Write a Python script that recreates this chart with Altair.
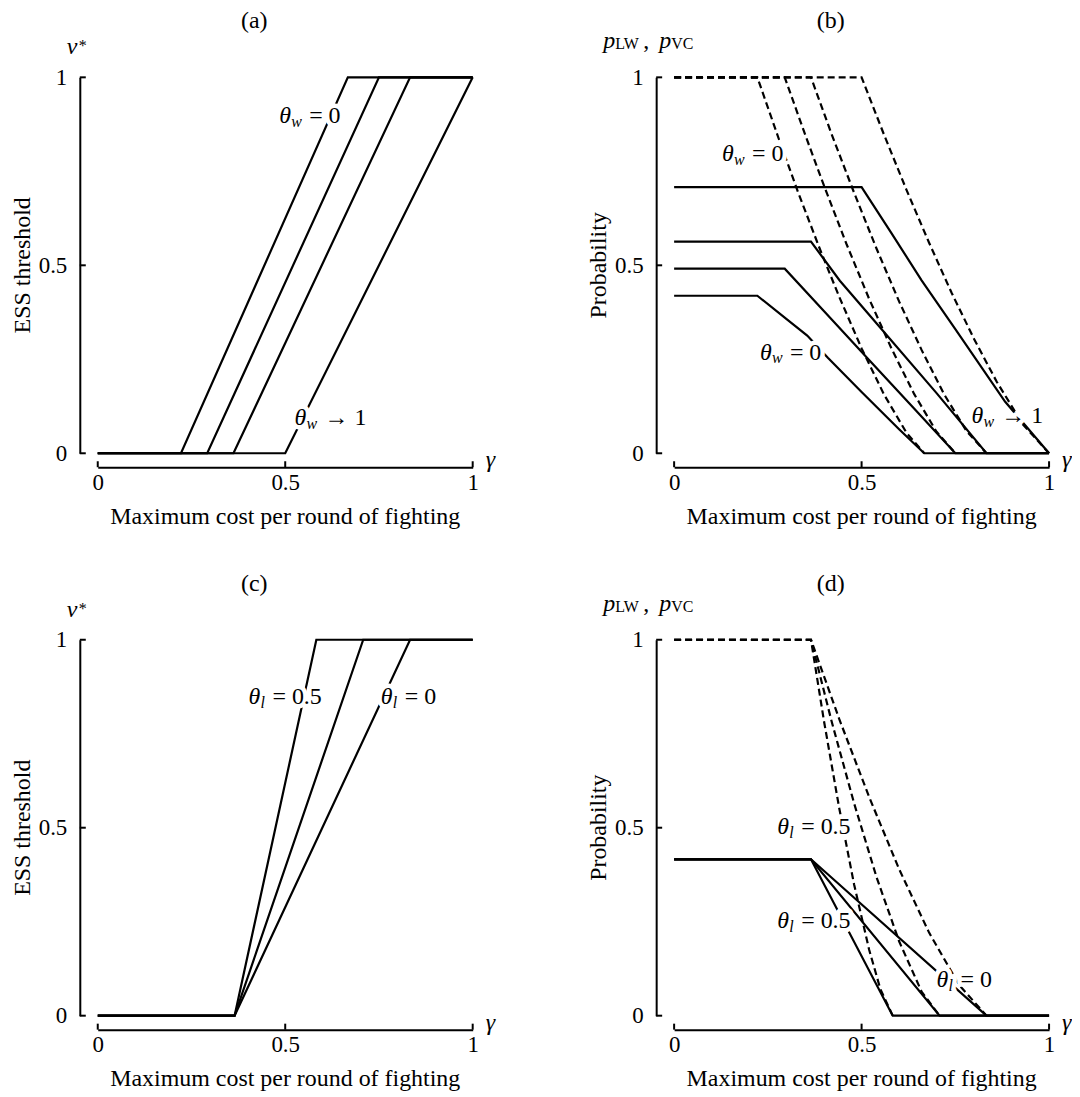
import altair as alt
import pandas as pd

SERIF = "Liberation Serif, Times New Roman, serif"
W, H = 376, 377
TICKS = [0, 0.5, 1]
FS = 24      # main text size
FS_TICK = 23 # tick label size
FS_SUB = 16  # subscripts

# ---------------- data ----------------
# (a) ESS threshold v* against gamma, theta_w = 0 ... theta_w -> 1
A_X = [[0, 0.222, 0.667, 1.0], [0, 0.292, 0.75, 1.0], [0, 0.362, 0.833, 1.0], [0, 0.5, 1.0]]
A_Y = [[0, 0, 1, 1], [0, 0, 1, 1], [0, 0, 1, 1], [0, 0, 1]]

# (b) solid: p_LW ; dashed: p_VC
B_LW_X = [
    [0, 0.222, 0.30, 0.355, 0.41, 0.50, 0.60, 0.667, 1.0],
    [0, 0.295, 0.40, 0.52, 0.64, 0.75, 1.0],
    [0, 0.365, 0.442, 0.55, 0.70, 0.833, 1.0],
    [0, 0.5, 0.58, 0.66, 0.75, 0.883, 1.0],
]
B_LW_Y = [
    [0.419, 0.419, 0.357, 0.313, 0.254, 0.163, 0.064, 0, 0],
    [0.491, 0.491, 0.378, 0.248, 0.119, 0, 0],
    [0.563, 0.563, 0.459, 0.334, 0.160, 0, 0],
    [0.708, 0.708, 0.585, 0.46, 0.33, 0.137, 0],
]
B_VC_X = [
    [0, 0.222, 0.28, 0.33, 0.39, 0.44, 0.50, 0.56, 0.62, 0.667],
    [0, 0.295, 0.35, 0.40, 0.46, 0.52, 0.58, 0.64, 0.70, 0.75],
    [0, 0.365, 0.42, 0.48, 0.54, 0.60, 0.66, 0.72, 0.78, 0.833],
    [0, 0.5, 0.56, 0.62, 0.68, 0.74, 0.80, 0.86, 0.93, 1.0],
]
B_VC_Y = [
    [1, 1, 0.834, 0.696, 0.540, 0.417, 0.279, 0.156, 0.054, 0],
    [1, 1, 0.846, 0.711, 0.556, 0.411, 0.278, 0.158, 0.057, 0],
    [1, 1, 0.849, 0.693, 0.544, 0.404, 0.275, 0.157, 0.059, 0],
    [1, 1, 0.847, 0.700, 0.560, 0.427, 0.304, 0.191, 0.077, 0],
]

# (c) ESS threshold, theta_l = 0.5 ... 0
C_X = [[0, 0.365, 0.583, 1.0], [0, 0.365, 0.708, 1.0], [0, 0.365, 0.833, 1.0]]
C_Y = [[0, 0, 1, 1], [0, 0, 1, 1], [0, 0, 1, 1]]

# (d) solid: p_LW ; dashed: p_VC
D_LW_X = [[0, 0.365, 0.583, 1.0], [0, 0.365, 0.708, 1.0], [0, 0.365, 0.833, 1.0]]
D_LW_Y = [[0.416, 0.416, 0, 0], [0.416, 0.416, 0, 0], [0.416, 0.416, 0, 0]]
D_VC_X = [
    [0, 0.365, 0.40, 0.44, 0.48, 0.52, 0.55, 0.583],
    [0, 0.365, 0.42, 0.48, 0.54, 0.60, 0.66, 0.708],
    [0, 0.365, 0.44, 0.52, 0.60, 0.68, 0.76, 0.833],
]
D_VC_Y = [
    [1, 1, 0.782, 0.554, 0.349, 0.176, 0.071, 0],
    [1, 1, 0.783, 0.565, 0.368, 0.198, 0.064, 0],
    [1, 1, 0.790, 0.582, 0.390, 0.221, 0.082, 0],
]

# curve labels: (left x, middle y, text after theta+subscript)
A_LABELS = [(0.484, 0.897, "= 0"), (0.525, 0.095, "→ 1")]
B_LABELS = [(0.128, 0.796, "= 0"), (0.229, 0.268, "= 0"), (0.793, 0.100, "→ 1")]
C_LABELS = [(0.402, 0.847, "= 0.5"), (0.755, 0.847, "= 0")]
D_LABELS = [(0.275, 0.503, "= 0.5"), (0.275, 0.251, "= 0.5"), (0.700, 0.095, "= 0")]

PANEL_TITLES = ["(a)", "(b)", "(c)", "(d)"]
X_TITLE = "Maximum cost per round of fighting"
Y_TITLE_THR = "ESS threshold"
Y_TITLE_PROB = "Probability"

# ---------------- helpers ----------------
XS = alt.Scale(domain=[0, 1], nice=False, zero=False)
YS = alt.Scale(domain=[0, 1], nice=False, zero=False)
X_OFF, Y_OFF = 14, 18

X_AXIS = alt.Axis(values=TICKS, format="~g", offset=X_OFF, ticks=False, labelPadding=4,
                  labelFlush=False, labelOverlap=False, title=None, grid=False,
                  domainWidth=2, domainColor="black", labelFont=SERIF, labelFontSize=FS_TICK,
                  labelColor="black")
Y_AXIS = alt.Axis(values=TICKS, format="~g", offset=Y_OFF, ticks=False, labelPadding=13,
                  labelFlush=False, labelOverlap=False, title=None, grid=False,
                  domainWidth=2, domainColor="black", labelFont=SERIF, labelFontSize=FS_TICK,
                  labelColor="black")


def xenc(field):
    return alt.X(field, scale=XS, axis=X_AXIS)


def yenc(field):
    return alt.Y(field, scale=YS, axis=Y_AXIS)


def lines_df(xs, ys):
    rows = []
    for i, (xx, yy) in enumerate(zip(xs, ys)):
        for j, (x, y) in enumerate(zip(xx, yy)):
            rows.append({"s": i, "o": j, "x": x, "y": y})
    return pd.DataFrame(rows)


def line_layer(xs, ys, dashed=False):
    kw = dict(color="black", strokeWidth=2.2)
    if dashed:
        kw["strokeDash"] = [7, 4]
    return alt.Chart(lines_df(xs, ys)).mark_line(**kw).encode(
        x=xenc("x:Q"), y=yenc("y:Q"), detail="s:N", order="o:Q")


def tick_layers():
    df = pd.DataFrame({"v": TICKS})
    yt = alt.Chart(df).mark_rule(color="black", strokeWidth=2).encode(
        y=yenc("v:Q"), x=alt.value(-Y_OFF), x2=alt.value(-Y_OFF + 6))
    xt = alt.Chart(df).mark_rule(color="black", strokeWidth=2).encode(
        x=xenc("v:Q"), y=alt.value(H + X_OFF), y2=alt.value(H + X_OFF - 6))
    return [yt, xt]


def ptext(s, x, y, size=FS, italic=False, align="left", baseline="alphabetic", angle=None):
    kw = dict(font=SERIF, fontSize=size, align=align, baseline=baseline, color="black")
    if italic:
        kw["fontStyle"] = "italic"
    if angle is not None:
        kw["angle"] = angle
    return alt.Chart(pd.DataFrame({"t": [s]})).mark_text(**kw).encode(
        text="t:N", x=alt.value(x), y=alt.value(y))


def theta_layers(labels, sub, rest_dx):
    df = pd.DataFrame({"lx": [l[0] for l in labels], "ly": [l[1] for l in labels],
                       "rest": [l[2] for l in labels]})
    base = alt.Chart(df).encode(x=xenc("lx:Q"), y=yenc("ly:Q"))
    out = []
    for halo in (True, False):
        st = (dict(color="white", stroke="white", strokeWidth=9, strokeJoin="round")
              if halo else dict(color="black"))
        out.append(base.mark_text(text="θ", font=SERIF, fontSize=FS, fontStyle="italic",
                                  align="left", baseline="middle", **st))
        out.append(base.mark_text(text=sub, font=SERIF, fontSize=FS_SUB, fontStyle="italic",
                                  align="left", baseline="middle", dx=12, dy=6, **st))
        out.append(base.mark_text(font=SERIF, fontSize=FS, align="left", baseline="middle",
                                  dx=rest_dx, **st).encode(text="rest:N"))
    return out


def common_text(title, ytitle):
    return [
        ptext(title, 157, -56, baseline="middle", align="center"),
        ptext(ytitle, -75, H / 2, baseline="middle", align="center", angle=270),
        ptext(X_TITLE, W / 2, 441, baseline="middle", align="center"),
        ptext("γ", W + 13, H + X_OFF, italic=True),
    ]


def vstar():
    return [ptext("v", -31, -23, italic=True), ptext("*", -19, -26, size=FS_SUB)]


def pstar():
    return [
        ptext("p", -71, -29, italic=True),
        ptext("LW", -59, -28, size=FS_SUB),
        ptext(",", -31, -29),
        ptext("p", -15, -29, italic=True),
        ptext("VC", -3, -28, size=FS_SUB),
    ]


def panel(layers):
    return alt.layer(*layers).properties(width=W, height=H)


pa = panel([line_layer(A_X, A_Y)] + tick_layers() + theta_layers(A_LABELS, "w", 30)
           + common_text(PANEL_TITLES[0], Y_TITLE_THR) + vstar())
pb = panel([line_layer(B_VC_X, B_VC_Y, dashed=True), line_layer(B_LW_X, B_LW_Y)]
           + tick_layers() + theta_layers(B_LABELS, "w", 30)
           + common_text(PANEL_TITLES[1], Y_TITLE_PROB) + pstar())
pc = panel([line_layer(C_X, C_Y)] + tick_layers() + theta_layers(C_LABELS, "l", 24)
           + common_text(PANEL_TITLES[2], Y_TITLE_THR) + vstar())
pd_ = panel([line_layer(D_VC_X, D_VC_Y, dashed=True), line_layer(D_LW_X, D_LW_Y)]
            + tick_layers() + theta_layers(D_LABELS, "l", 24)
            + common_text(PANEL_TITLES[3], Y_TITLE_PROB) + pstar())

chart = alt.concat(pa, pb, pc, pd_, columns=2,
                   spacing={"row": 187, "column": 202}, bounds="flush").properties(
    padding={"left": 3, "top": 0, "right": 0, "bottom": 0}
).configure_view(stroke=None).configure_axis(grid=False)

chart.save("out.html", embed_options={"renderer": "svg", "actions": False})
